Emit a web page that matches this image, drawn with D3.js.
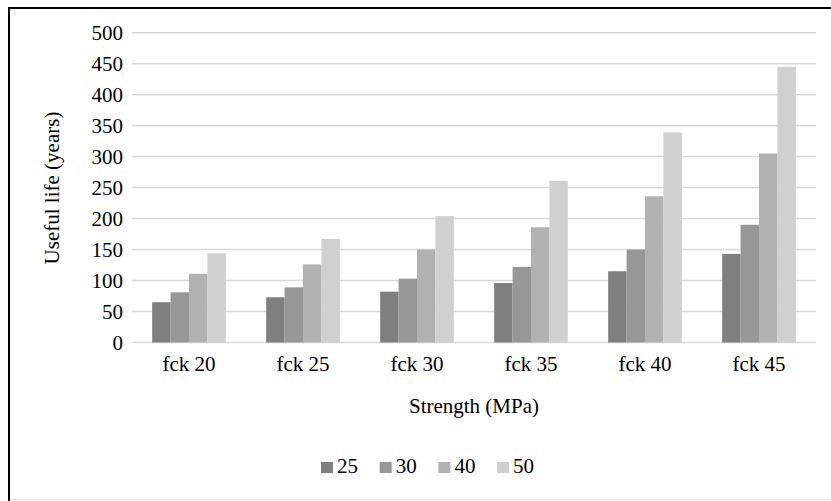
<!DOCTYPE html>
<html><head><meta charset="utf-8">
<script src="https://cdn.jsdelivr.net/npm/d3@7"></script>
</head><body style="margin:0">
<svg id="c" width="831" height="501"></svg>
<script>
const categories = ["fck 20","fck 25","fck 30","fck 35","fck 40","fck 45"];
const seriesNames = ["25","30","40","50"];
const s25 = [65, 73, 82, 96, 115, 143];
const s30 = [81, 89, 103, 122, 150, 190];
const s40 = [111, 126, 150, 186, 236, 305];
const s50 = [144, 167, 204, 261, 339, 445];
const yTicks = [0,50,100,150,200,250,300,350,400,450,500];
const colors = ["#7f7f7f","#979797","#b1b1b1","#d0d0d0"];
const seriesValues = [s25, s30, s40, s50];

const svg = d3.select("#c");
const FF = "Liberation Serif";
const fs = 21;
const tc = "#000";

// frame
svg.append("line").attr("x1",9).attr("x2",831).attr("y1",8).attr("y2",8).attr("stroke","#000").attr("stroke-width",2);
svg.append("line").attr("x1",9).attr("x2",9).attr("y1",7).attr("y2",501).attr("stroke","#000").attr("stroke-width",2);
svg.append("line").attr("x1",10).attr("x2",831).attr("y1",499.5).attr("y2",499.5).attr("stroke","#e6e6e6").attr("stroke-width",1);

const x0 = d3.scaleBand().domain(categories).range([132,816]).paddingInner(0.354).paddingOuter(0.177);
const x1 = d3.scaleBand().domain(seriesNames).range([0, x0.bandwidth()]);
const y = d3.scaleLinear().domain([0,500]).range([342.5, 32.7]);

// gridlines
svg.append("g").selectAll("line").data(yTicks).join("line")
  .attr("x1",132).attr("x2",816)
  .attr("y1",d=>y(d)).attr("y2",d=>y(d))
  .attr("stroke","#d9d9d9").attr("stroke-width",1.5);

// y axis labels
svg.append("g").selectAll("text").data(yTicks).join("text")
  .attr("x",123).attr("y",d=>y(d)+7).attr("text-anchor","end")
  .attr("font-family",FF).attr("font-size",fs).attr("fill",tc).text(d=>d);

// bars
const rows = categories.map((c,i)=>({cat:c, vals: seriesNames.map((s,j)=>({s, v: seriesValues[j][i], j}))}));
svg.append("g").selectAll("g").data(rows).join("g")
  .attr("transform", d=>`translate(${x0(d.cat)},0)`)
  .selectAll("rect").data(d=>d.vals).join("rect")
  .attr("x", d=>x1(d.s)).attr("width", x1.bandwidth())
  .attr("y", d=>y(d.v)).attr("height", d=>y(0)-y(d.v))
  .attr("fill", d=>colors[d.j]);

// x axis labels
svg.append("g").selectAll("text").data(categories).join("text")
  .attr("x",d=>x0(d)+x0.bandwidth()/2).attr("y",371).attr("text-anchor","middle")
  .attr("font-family",FF).attr("font-size",fs).attr("fill",tc).text(d=>d);

// axis titles
svg.append("text").attr("x",474).attr("y",413).attr("text-anchor","middle")
  .attr("font-family",FF).attr("font-size",fs).attr("fill",tc).text("Strength (MPa)");
svg.append("text").attr("transform","translate(59,188) rotate(-90)").attr("text-anchor","middle")
  .attr("font-family",FF).attr("font-size",fs).attr("fill",tc).text("Useful life (years)");

// legend
const leg = svg.append("g").selectAll("g").data(seriesNames).join("g")
  .attr("transform",(d,i)=>`translate(${321 + i*58.7},0)`);
leg.append("rect").attr("x",0).attr("y",462).attr("width",12).attr("height",11).attr("fill",(d,i)=>colors[i]);
leg.append("text").attr("x",16).attr("y",473).attr("font-family",FF).attr("font-size",fs).attr("fill",tc).text(d=>d);
</script>
</body></html>
